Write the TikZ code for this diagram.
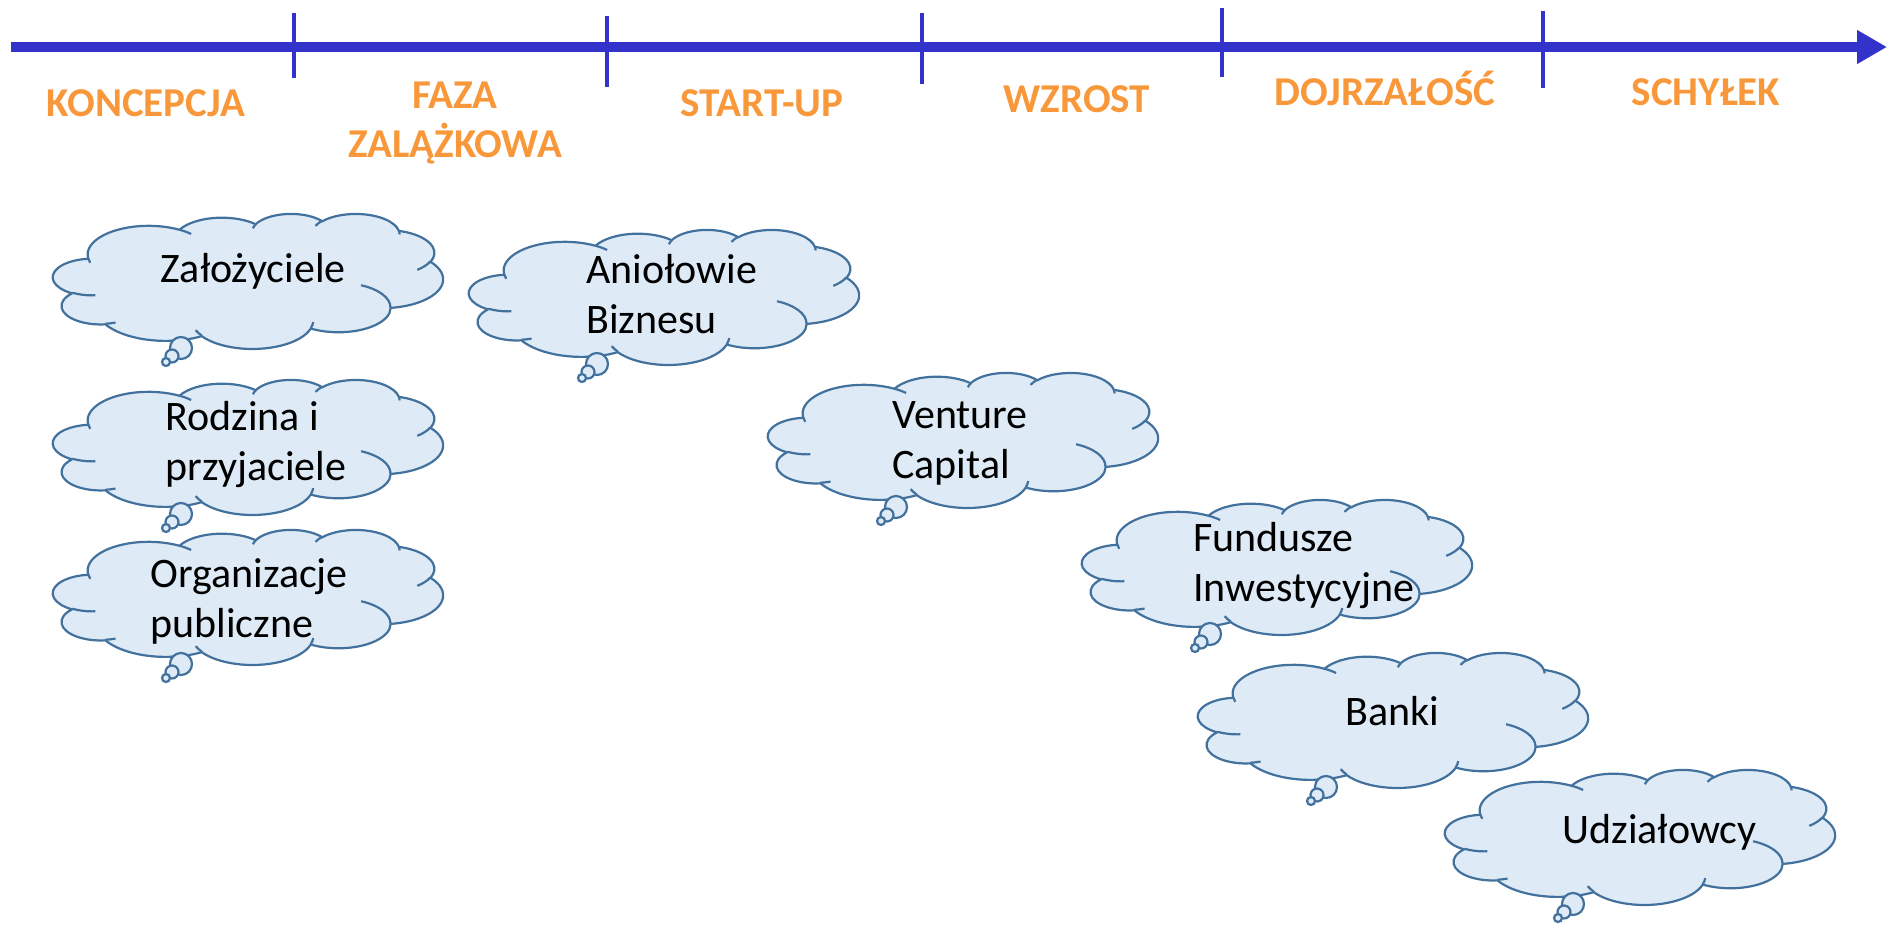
\documentclass[tikz,border=0pt]{standalone}
\usepackage{fontspec}
\setmainfont{Carlito}
\usepackage{tikz}
\usetikzlibrary{arrows.meta, calc}
\definecolor{axisblue}{RGB}{51,51,204}
\definecolor{phaseorange}{RGB}{248,152,58}
\definecolor{cloudfill}{RGB}{222,235,247}
\definecolor{cloudline}{RGB}{65,113,156}
% luk elipsy: x-promien, y-promien, kat poczatkowy, kat rozwarcia
\newcommand\puffarc[4]{\pgfextra{%
    \pgfmathparse{atan2(#1*sin(#3),#2*cos(#3))}\xdef\angA{\pgfmathresult}%
    \pgfmathparse{\angA+mod(atan2(#1*sin(#3+#4),#2*cos(#3+#4))-\angA+720,360)}\xdef\angB{\pgfmathresult}}
    arc[start angle=\angA, end angle=\angB, x radius=#1, y radius=#2]}

\begin{document}
\begin{tikzpicture}[x=0.5pt, y=-0.5pt, >={Triangle[length=15pt, width=16pt]},
        phase/.style={font=\bfseries\fontsize{20.5}{24.5}\selectfont, text=phaseorange, anchor=base, inner sep=0pt},
        puff/.style={draw=cloudline, fill=cloudfill, line width=1.1pt},
        txt/.style={font=\fontsize{21}{25}\selectfont, align=left, anchor=base west, inner sep=0pt},
        thought/.pic={
            \begin{scope}[x=0.45139pt, y=-0.15625pt, shift={(-216,-216)}]
                \draw[puff] (39,143.7) \puffarc{67.53}{91.90}{-190.4875}{123.7805}
                    \puffarc{53.33}{72.67}{-144.1024}{89.9452} \puffarc{43.65}{59.45}{-145.8079}{99.7230}
                    \puffarc{48.57}{65.95}{-130.9861}{117.2417} \puffarc{53.33}{72.73}{-78.7089}{109.0269}
                    \puffarc{67.75}{92.20}{-46.2673}{130.2690} \puffarc{57.85}{78.67}{0.6250}{114.0333}
                    \puffarc{67.52}{92.15}{22.4624}{115.1726} \puffarc{77.20}{105.43}{66.2426}{75.7110}
                    \puffarc{43.60}{59.18}{-274.9421}{146.7356} \puffarc{43.45}{59.45}{-246.8285}{152.5189} -- cycle;
                \draw[puff, fill=none] (46.93,261.77) \puffarc{43.45}{59.45}{86.7420}{26.4295}
                    (69.28,348.99) \puffarc{43.60}{59.18}{73.6105}{11.4475}
                    (164.78,390.90) \puffarc{67.52}{92.15}{137.6242}{14.0811}
                    (288.27,347.51) \puffarc{67.52}{92.15}{6.4533}{15.9984}
                    (341.29,229.54) \puffarc{57.85}{78.67}{-70.2924}{70.9174}
                    (417.98,153.54) \puffarc{53.33}{72.73}{30.3180}{27.7515}
                    (383.24,54.26) \puffarc{48.57}{65.95}{-13.7443}{14.8589}
                    (290.78,39.52) \puffarc{48.57}{65.95}{-149.1815}{18.1954}
                    (221.41,47.20) \puffarc{43.65}{59.45}{-163.4943}{17.6864}
                    (140.00,51.92) \puffarc{67.53}{91.90}{-66.7070}{12.3194}
                    (41.27,157.89) \puffarc{67.53}{91.90}{157.6544}{11.8582};
            \end{scope}
            \draw[puff] (-67,67) circle[radius=11];
            \draw[puff] (-76,75) circle[radius=6.5];
            \draw[puff] (-82,81) circle[radius=4];
        }]
    \useasboundingbox (0,0) rectangle (1890,925);
    % os czasu
    \coordinate (start) at (11,47);
    \coordinate (end) at (1887,47);
    \draw[->, axisblue, line width=5pt] (start) -- (end);
    \foreach \x/\a/\b in {294/13/78, 607/16/87, 922/13/84, 1222/8/77, 1543/11/88}
        \draw[axisblue, line width=2pt] (\x,\a) -- (\x,\b);
    % fazy
    \node[phase] (konc) at (146,117) {KONCEPCJA};
    \node[phase, align=center] (faza) at (455,158) {FAZA\\ZALĄŻKOWA};
    \node[phase] (start-up) at (762,117) {START-UP};
    \node[phase] (wzr) at (1077,113) {WZROST};
    \node[phase] (dojr) at (1385,106) {DOJRZAŁOŚĆ};
    \node[phase] (schy) at (1706,106) {SCHYŁEK};
    % chmurki
    \foreach \p in {(248,281), (248,447), (248,597), (664,297), (963,440), (1277,567), (1393,720), (1640,837)}
        \pic at \p {thought};
    \node[txt] (tzal) at (160,283) {Założyciele};
    \node[txt] (trod) at (165,480) {Rodzina i\\przyjaciele};
    \node[txt] (torg) at (150,637) {Organizacje\\publiczne};
    \node[txt] (tani) at (586,334) {Aniołowie\\Biznesu};
    \node[txt] (tven) at (892,478) {Venture\\Capital};
    \node[txt] (tfun) at (1193,601) {Fundusze\\Inwestycyjne};
    \node[txt] (tban) at (1345,725) {Banki};
    \node[txt] (tudz) at (1562,843) {Udziałowcy};
\end{tikzpicture}
\end{document}
